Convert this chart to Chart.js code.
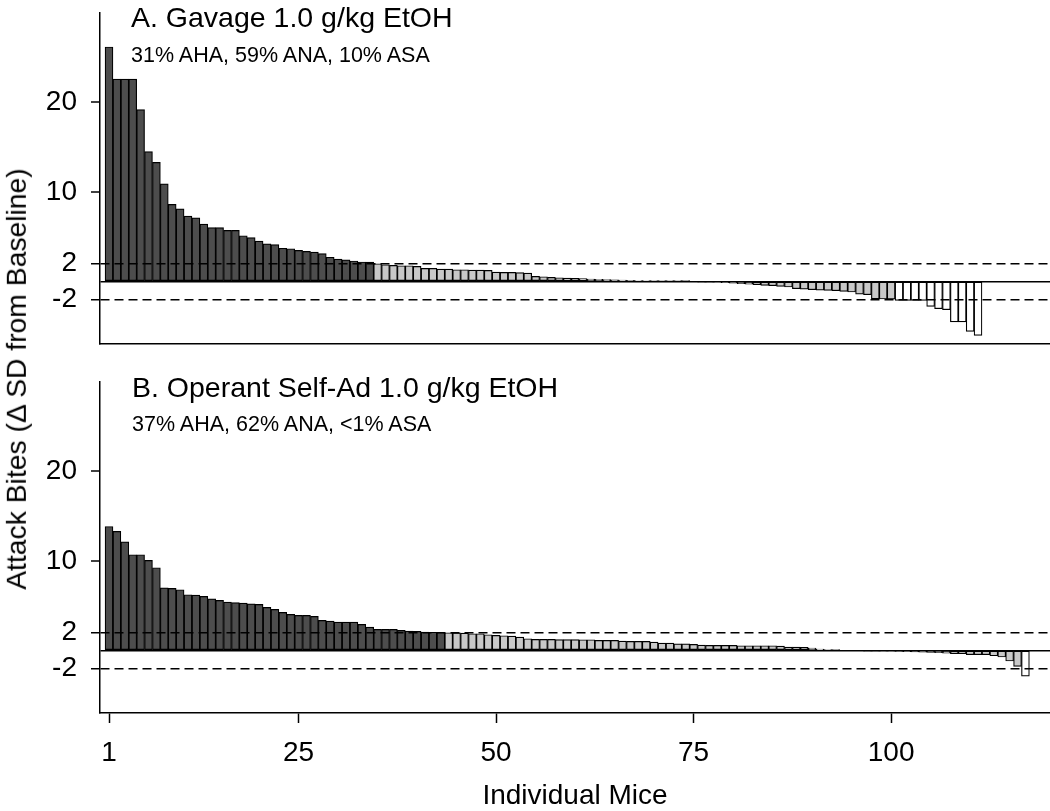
<!DOCTYPE html>
<html>
<head>
<meta charset="utf-8">
<script src="https://cdn.jsdelivr.net/npm/chart.js@4.4.1/dist/chart.umd.min.js"></script>
<style>
  html, body { margin: 0; padding: 0; background: #fff; }
  body { width: 1050px; height: 811px; position: relative; overflow: hidden; font-family: 'Liberation Sans', Arial, sans-serif; color: #000; }
  .box { position: absolute; left: 0; width: 1050px; }
  .txt { position: absolute; white-space: nowrap; line-height: 1; font-family: 'Liberation Sans', Arial, sans-serif; color: #000; }
</style>
</head>
<body>
<div class="box" style="top:0;height:362px"><canvas id="chartA"></canvas></div>
<div class="box" style="top:362px;height:451px"><canvas id="chartB"></canvas></div>

<div class="txt" style="left:131px;top:2.6px;font-size:28.5px">A. Gavage 1.0 g/kg EtOH</div>
<div class="txt" style="left:131px;top:45px;font-size:21.5px">31% AHA, 59% ANA, 10% ASA</div>
<div class="txt" style="left:132px;top:372.6px;font-size:28.5px">B. Operant Self-Ad 1.0 g/kg EtOH</div>
<div class="txt" style="left:132px;top:413.5px;font-size:21.5px">37% AHA, 62% ANA, &lt;1% ASA</div>
<div class="txt" style="left:16px;top:378.5px;font-size:28.3px;transform:translate(-50%,-50%) rotate(-90deg)">Attack Bites (Δ SD from Baseline)</div>

<script>
// ---- Data (ΔSD attack bites per individual mouse, sorted) ----
const gavageAHA = [26.2, 22.6, 22.6, 22.6, 19.2, 14.5, 13.3, 10.9, 8.6, 8.1,
  7.3, 7.1, 6.4, 6.0, 6.0, 5.7, 5.7, 5.1, 4.9, 4.5,
  4.2, 4.1, 3.7, 3.65, 3.46, 3.35, 3.28, 3.1, 2.7, 2.5,
  2.4, 2.28, 2.17, 2.15];
const gavageANA = [1.97, 1.86, 1.79, 1.75, 1.75, 1.68, 1.45, 1.45, 1.38, 1.38,
  1.30, 1.30, 1.27, 1.27, 1.23, 1.04, 1.0, 1.0, 0.97, 0.93,
  0.56, 0.52, 0.45, 0.41, 0.36, 0.33, 0.30, 0.27, 0.24, 0.2,
  0.17, 0.15, 0.12, 0.10, 0.08, 0.06, 0.04, 0.03, 0.02, 0.01,
  0.0, -0.02, -0.05, -0.1, -0.15, -0.2, -0.25, -0.30, -0.37, -0.45,
  -0.48, -0.56, -0.63, -0.82, -0.86, -0.93, -0.97, -1.0, -1.04, -1.12,
  -1.19, -1.42, -1.49, -1.95, -1.97, -1.99];
const gavageASA = [-2.12, -2.12, -2.12, -2.12, -2.79, -3.05, -3.17, -4.54, -4.54, -5.59, -6.03];

const operantAHA = [13.85, 13.3, 12.14, 10.69, 10.69, 10.06, 9.24, 7.0, 6.93, 6.78,
  6.22, 6.18, 6.03, 5.77, 5.59, 5.4, 5.33, 5.29, 5.21, 5.14,
  4.8, 4.58, 4.25, 4.02, 3.91, 3.91, 3.8, 3.35, 3.28, 3.17,
  3.17, 3.17, 2.9, 2.6, 2.35, 2.35, 2.35, 2.23, 2.16, 2.12,
  2.05, 2.03, 2.02];
const operantANA = [1.97, 1.96, 1.94, 1.86, 1.86, 1.75, 1.68, 1.64, 1.6, 1.49,
  1.3, 1.23, 1.23, 1.23, 1.21, 1.21, 1.2, 1.19, 1.19, 1.12,
  1.12, 1.12, 1.04, 1.0, 1.0, 1.0, 0.93, 0.82, 0.82, 0.74,
  0.74, 0.67, 0.6, 0.56, 0.56, 0.56, 0.56, 0.52, 0.52, 0.52,
  0.52, 0.52, 0.48, 0.37, 0.37, 0.34, 0.26, 0.15, 0.04, 0.01,
  0, 0, 0, -0.03, -0.05, -0.07, -0.1, -0.12, -0.15, -0.17,
  -0.2, -0.22, -0.26, -0.3, -0.37, -0.37, -0.48, -0.48, -0.48, -0.6,
  -0.74, -1.19, -1.79];
const operantASA = [-2.87];

const yTickValues = [-2, 0, 2, 10, 20];
const xTickValues = [1, 25, 50, 75, 100];
const yMin = -7, yMax = 30;
const xMin = -0.14, xMax = 120.11;

const colorAHA = '#4d4d4d';
const colorANA = '#c8c8c8';
const colorASA = '#ffffff';

Chart.defaults.font.family = "'Liberation Sans', Arial, sans-serif";
Chart.defaults.color = '#000';

function buildDataset(aha, ana, asa) {
  const values = aha.concat(ana, asa);
  const colors = aha.map(() => colorAHA).concat(ana.map(() => colorANA), asa.map(() => colorASA));
  return {
    data: values.map((v, i) => ({ x: i + 1, y: v })),
    backgroundColor: colors,
    borderColor: '#000',
    borderWidth: 1.2,
    borderSkipped: false,
    barPercentage: 1,
    categoryPercentage: 1
  };
}

function yScale() {
  const isRef = v => v === 2 || v === -2 || v === 0;
  return {
    type: 'linear', min: yMin, max: yMax,
    afterBuildTicks: s => { s.ticks = yTickValues.map(v => ({ value: v })); },
    afterFit: s => { s.width = 100; s.paddingTop = 0; s.paddingBottom = 0; },
    ticks: {
      z: 1,
      callback: v => (v === 0 ? '' : String(v)),
      font: { size: 28 }, color: '#000', padding: 14
    },
    grid: {
      z: 1,
      drawOnChartArea: true,
      drawTicks: true,
      tickLength: 9,
      color: c => (c.tick && isRef(c.tick.value)) ? '#000' : 'rgba(0,0,0,0)',
      lineWidth: c => (c.tick && isRef(c.tick.value)) ? 1.5 : 0,
      tickColor: c => (c.tick && c.tick.value === 0) ? 'rgba(0,0,0,0)' : '#000',
      tickWidth: 1.5
    },
    border: {
      z: 1,
      display: true, color: '#000', width: 1.5,
      dash: c => (c.tick && Math.abs(c.tick.value) === 2) ? [9, 5] : []
    }
  };
}

function xScale(withTicks) {
  const s = {
    type: 'linear', min: xMin, max: xMax,
    offset: false,
    bounds: 'data',
    border: { display: true, color: '#000', width: 1.5 }
  };
  if (withTicks) {
    s.afterBuildTicks = sc => { sc.ticks = xTickValues.map(v => ({ value: v })); };
    s.afterFit = sc => { sc.height = 100; sc.paddingLeft = 0; sc.paddingRight = 0; };
    s.ticks = { font: { size: 28 }, color: '#000', padding: 13.5, maxRotation: 0, autoSkip: false };
    s.grid = { display: true, offset: false, drawOnChartArea: false, drawTicks: true, tickLength: 10, tickColor: '#000', tickWidth: 1.5 };
    s.title = { display: true, text: 'Individual Mice', font: { size: 28 }, color: '#000', padding: { top: 0, bottom: 0 } };
  } else {
    s.afterFit = sc => { sc.height = 18; sc.paddingLeft = 0; sc.paddingRight = 0; };
    s.ticks = { display: false };
    s.grid = { display: false, offset: false };
  }
  return s;
}

const common = {
  responsive: true,
  maintainAspectRatio: false,
  animation: false,
  devicePixelRatio: 1,
  plugins: { legend: { display: false }, tooltip: { enabled: false } }
};

new Chart(document.getElementById('chartA'), {
  type: 'bar',
  data: { datasets: [buildDataset(gavageAHA, gavageANA, gavageASA)] },
  options: Object.assign({}, common, {
    layout: { padding: { top: 13, left: 0, right: 0, bottom: 0 } },
    scales: { x: xScale(false), y: yScale() }
  })
});

new Chart(document.getElementById('chartB'), {
  type: 'bar',
  data: { datasets: [buildDataset(operantAHA, operantANA, operantASA)] },
  options: Object.assign({}, common, {
    layout: { padding: { top: 20, left: 0, right: 0, bottom: 0 } },
    scales: { x: xScale(true), y: yScale() }
  })
});
</script>
</body>
</html>
